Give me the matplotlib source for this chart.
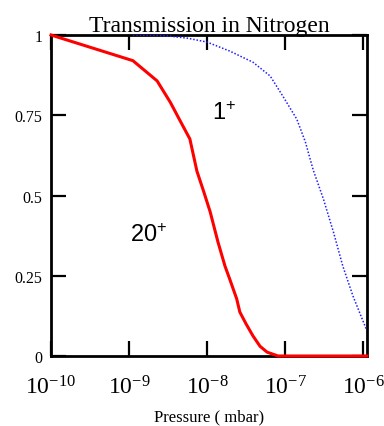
import numpy as np
import matplotlib
matplotlib.use("Agg")
import matplotlib.pyplot as plt
from matplotlib.ticker import FixedLocator, FuncFormatter

# ----------------------------
# data (log10 pressure in mbar, transmission)
# ----------------------------
logp_20 = [-10.0, -8.95, -8.64, -8.47, -8.35, -8.22, -8.13, -8.04, -7.96,
           -7.86, -7.77, -7.71, -7.62, -7.58, -7.50, -7.41, -7.32, -7.23,
           -7.09, -6.5, -5.95]
trans_20 = [1.0, 0.92, 0.857, 0.79, 0.735, 0.676, 0.576, 0.51, 0.449,
            0.355, 0.28, 0.24, 0.178, 0.137, 0.10, 0.062, 0.03, 0.012,
            0.0, 0.0, 0.0]

logp_1 = [-8.95, -8.5, -8.25, -8.0, -7.71, -7.41, -7.19, -7.03, -6.85,
          -6.74, -6.64, -6.51, -6.38, -6.26, -6.13, -5.96]
trans_1 = [1.0, 0.997, 0.99, 0.978, 0.95, 0.915, 0.872, 0.81, 0.738,
           0.667, 0.58, 0.49, 0.386, 0.28, 0.187, 0.084]

x_ticks = [1e-10, 1e-9, 1e-8, 1e-7, 1e-6]
y_ticks = [0, 0.25, 0.5, 0.75, 1]
y_labels = ["0", "0.25", "0.5", "0.75", "1"]

serif = "Liberation Serif"
sans = "Liberation Sans"
plt.rcParams["mathtext.fontset"] = "custom"
plt.rcParams["mathtext.rm"] = serif
plt.rcParams["mathtext.it"] = serif
plt.rcParams["mathtext.sf"] = sans

fig = plt.figure(figsize=(3.84, 4.27), dpi=100)
ax = fig.add_axes([51 / 384, 1 - 357 / 427, 316 / 384, 321 / 427])

ax.plot(10 ** np.array(logp_1), trans_1, color="#1f1fff", lw=1.1,
        linestyle=(0, (1, 1.2)), zorder=3)
ax.plot(10 ** np.array(logp_20), trans_20, color="#ff0000", lw=2.2,
        zorder=4, clip_on=False)

ax.set_xscale("log")
ax.set_xlim(1e-10, 10 ** -5.95)
ax.set_ylim(0, 1)

ax.xaxis.set_major_locator(FixedLocator(x_ticks))
ax.xaxis.set_minor_locator(FixedLocator([]))
ax.xaxis.set_major_formatter(FuncFormatter(
    lambda v, p: "$\\mathregular{10^{%d}}$" % round(np.log10(v))))
ax.set_yticks(y_ticks)
ax.set_yticklabels(y_labels)

ax.tick_params(which="major", direction="in", length=11, width=1.6,
               top=True, right=True)
ax.tick_params(axis="x", labelsize=17, pad=14)
ax.tick_params(axis="y", labelsize=11.5, pad=6)
for lab in ax.get_yticklabels() + ax.get_xticklabels():
    lab.set_fontfamily(serif)
for s in ax.spines.values():
    s.set_linewidth(2)

ax.set_title("Transmission in Nitrogen", fontfamily=serif, fontsize=17, pad=3)
ax.set_xlabel("Pressure ( mbar)", fontfamily=serif, fontsize=12, labelpad=7)

ax.text(10 ** -7.94, 0.738, "$\\mathsf{1^{+}}$", fontsize=17)
ax.text(10 ** -8.99, 0.358, "$\\mathsf{20^{+}}$", fontsize=17)

fig.savefig("out.png", dpi=100)
